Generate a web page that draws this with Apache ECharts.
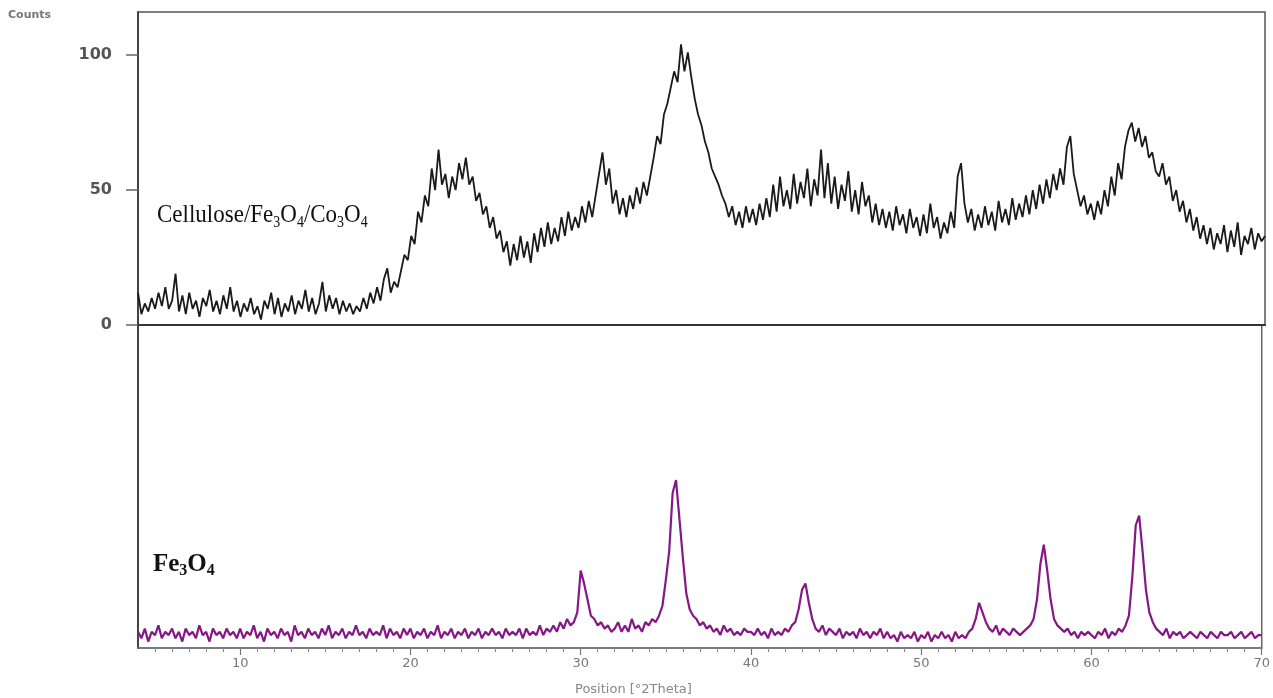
<!DOCTYPE html>
<html>
<head>
<meta charset="utf-8">
<script src="https://cdn.jsdelivr.net/npm/echarts@6/dist/echarts.min.js"></script>
<style>
html,body{margin:0;padding:0;background:#fff;}
#chart{width:1273px;height:698px;}
</style>
</head>
<body>
<div id="chart"></div>
<script>
// Sampling of the 2-theta scan (degrees)
const scanStart = 4.0;
const scanStep = 0.2;

// Cellulose/Fe3O4/Co3O4 counts, one row per 2 degrees (4.0 ... 69.8), then 70.0
const celluloseCounts = [
  12, 4, 8, 5, 10, 6, 12, 7, 14, 6,
  9, 19, 5, 11, 4, 12, 6, 9, 3, 10,
  7, 13, 5, 9, 4, 11, 6, 14, 5, 9,
  3, 8, 5, 10, 4, 7, 2, 9, 6, 12,
  4, 10, 3, 8, 5, 11, 4, 9, 6, 13,
  5, 10, 4, 8, 16, 5, 11, 6, 10, 4,
  9, 5, 8, 4, 7, 5, 10, 6, 12, 8,
  14, 9, 17, 21, 12, 16, 14, 20, 26, 24,
  33, 30, 42, 38, 48, 44, 58, 50, 65, 52,
  56, 47, 55, 50, 60, 54, 62, 52, 55, 46,
  49, 41, 44, 36, 40, 32, 35, 27, 31, 22,
  30, 24, 33, 25, 31, 23, 34, 27, 36, 29,
  38, 30, 36, 31, 40, 33, 42, 35, 40, 36,
  44, 38, 46, 40, 48, 56, 64, 52, 58, 45,
  50, 41, 47, 40, 48, 43, 51, 45, 53, 48,
  55, 62, 70, 67, 78, 82, 88, 94, 90, 104,
  94, 101, 92, 84, 78, 74, 68, 64, 58, 55,
  52, 48, 45, 40, 44, 37, 42, 36, 44, 38,
  43, 37, 45, 39, 47, 40, 52, 42, 55, 44,
  50, 43, 56, 45, 53, 47, 58, 44, 54, 48,
  65, 47, 60, 45, 55, 43, 52, 46, 57, 42,
  50, 41, 53, 44, 48, 38, 45, 37, 43, 36,
  42, 35, 44, 37, 41, 34, 43, 36, 40, 33,
  41, 34, 45, 36, 40, 32, 38, 34, 42, 36,
  55, 60, 45, 38, 43, 35, 41, 36, 44, 37,
  42, 35, 46, 38, 43, 37, 47, 39, 45, 40,
  48, 41, 50, 43, 52, 45, 54, 47, 56, 50,
  58, 52, 66, 70, 56, 50, 44, 48, 41, 45,
  39, 46, 41, 50, 44, 55, 48, 60, 54, 66,
  72, 75, 68, 73, 66, 70, 62, 64, 57, 55,
  60, 52, 55, 46, 50, 42, 46, 38, 43, 35,
  40, 32, 37, 30, 36, 28, 34, 30, 37, 27,
  35, 29, 38, 26, 33, 30, 36, 28, 34, 31,
  33
];

// Fe3O4 intensity (relative units), same sampling
const magnetiteCounts = [
  5, 3, 6, 2, 5, 4, 7, 3, 5, 4,
  6, 3, 5, 2, 6, 4, 5, 3, 7, 4,
  5, 2, 6, 4, 5, 3, 6, 4, 5, 3,
  6, 3, 5, 4, 7, 3, 5, 2, 6, 4,
  5, 3, 6, 4, 5, 2, 7, 4, 5, 3,
  6, 4, 5, 3, 6, 4, 7, 3, 5, 4,
  6, 3, 5, 4, 7, 4, 5, 3, 6, 4,
  5, 4, 7, 3, 6, 4, 5, 3, 6, 4,
  6, 3, 5, 4, 6, 3, 5, 4, 7, 3,
  5, 4, 6, 3, 5, 4, 6, 3, 5, 4,
  6, 3, 5, 4, 6, 4, 5, 3, 6, 4,
  5, 4, 6, 3, 6, 4, 5, 4, 7, 4,
  6, 5, 7, 5, 8, 6, 9, 7, 8, 11,
  24, 20, 15, 10, 9, 7, 8, 6, 7, 5,
  6, 8, 5, 7, 5, 9, 6, 7, 5, 8,
  7, 9, 8, 10, 13, 21, 30, 48, 52, 40,
  28, 17, 12, 10, 9, 7, 8, 6, 7, 5,
  6, 4, 7, 5, 6, 4, 5, 4, 6, 5,
  5, 4, 6, 4, 5, 3, 6, 4, 5, 4,
  6, 5, 7, 8, 12, 18, 20, 14, 9, 6,
  5, 7, 4, 6, 5, 4, 6, 3, 5, 4,
  5, 3, 6, 4, 5, 3, 5, 4, 6, 3,
  5, 3, 4, 2, 5, 3, 4, 3, 5, 2,
  4, 3, 5, 2, 4, 3, 5, 3, 4, 2,
  5, 3, 4, 3, 5, 6, 9, 14, 11, 8,
  6, 5, 7, 4, 6, 5, 4, 6, 5, 4,
  5, 6, 7, 9, 15, 26, 32, 24, 15, 9,
  7, 6, 5, 6, 4, 5, 3, 5, 4, 5,
  4, 3, 5, 4, 6, 3, 5, 4, 6, 5,
  7, 10, 22, 38, 41, 30, 18, 11, 8, 6,
  5, 4, 6, 3, 5, 4, 5, 3, 4, 5,
  4, 3, 5, 4, 3, 5, 4, 3, 5, 4,
  4, 5, 3, 4, 5, 3, 4, 5, 3, 4,
  4
];

const xTickLabels = ['10', '20', '30', '40', '50', '60', '70'];
const yTickValues = [0, 50, 100];
const yAxisTitle = 'Counts';
const xAxisTitle = 'Position [°2Theta]';

const twoTheta = celluloseCounts.map((_, i) => +(scanStart + i * scanStep).toFixed(1));
const topData = twoTheta.map((x, i) => [x, celluloseCounts[i]]);
const botData = twoTheta.map((x, i) => [x, magnetiteCounts[i]]);

const chart = echarts.init(document.getElementById('chart'), null, {renderer: 'canvas'});
const axisFont = 'DejaVu Sans';

chart.setOption({
  animation: false,
  backgroundColor: '#ffffff',
  grid: [
    {left: 138, right: 8, top: 12, height: 313, show: true, borderColor: '#555', borderWidth: 1.5, backgroundColor: 'transparent'},
    {left: 138, right: 8, top: 325, height: 323, show: true, borderColor: '#666', borderWidth: 1.5, backgroundColor: 'transparent'}
  ],
  xAxis: [
    {
      gridIndex: 0, type: 'value', min: 4, max: 70,
      axisLine: {show: true, lineStyle: {color: '#333', width: 2}},
      axisTick: {show: false}, axisLabel: {show: false}, splitLine: {show: false}
    },
    {
      gridIndex: 1, type: 'value', min: 4, max: 70,
      axisLine: {show: true, lineStyle: {color: '#777', width: 1.5}},
      axisTick: {show: true, length: 7, lineStyle: {color: '#777', width: 1.2}, customValues: [10, 20, 30, 40, 50, 60, 70]},
      minorTick: {show: true, splitNumber: 10, length: 4, lineStyle: {color: '#888'}},
      axisLabel: {
        show: true, margin: 9, color: '#777', fontSize: 13, fontFamily: axisFont,
        customValues: [10, 20, 30, 40, 50, 60, 70],
        formatter: v => xTickLabels[Math.round(v / 10) - 1] || ''
      },
      splitLine: {show: false}
    }
  ],
  yAxis: [
    {
      gridIndex: 0, type: 'value', min: 0, max: 116,
      axisLine: {show: true, lineStyle: {color: '#444', width: 2}},
      axisTick: {show: true, length: 12, lineStyle: {color: '#666', width: 1.5}, customValues: yTickValues},
      axisLabel: {
        show: true, margin: 26, color: '#555', fontSize: 16, fontWeight: 'bold', fontFamily: axisFont,
        customValues: yTickValues
      },
      splitLine: {show: false}
    },
    {
      gridIndex: 1, type: 'value', min: 0, max: 100,
      axisLine: {show: true, lineStyle: {color: '#444', width: 2}},
      axisTick: {show: false}, axisLabel: {show: false}, splitLine: {show: false}
    }
  ],
  series: [
    {
      type: 'line', xAxisIndex: 0, yAxisIndex: 0, data: topData,
      showSymbol: false, symbol: 'none',
      lineStyle: {color: '#1a1a1a', width: 1.8}
    },
    {
      type: 'line', xAxisIndex: 1, yAxisIndex: 1, data: botData,
      showSymbol: false, symbol: 'none',
      lineStyle: {color: '#861886', width: 2.2}
    }
  ],
  graphic: [
    {
      type: 'text', left: 8, top: 10,
      style: {text: yAxisTitle, fill: '#777', fontSize: 11, fontFamily: axisFont, fontWeight: 'bold'}
    },
    {
      type: 'text', left: 575, top: 683,
      style: {text: xAxisTitle, fill: '#888', fontSize: 13, fontFamily: axisFont}
    },
    {
      type: 'text', left: 157, top: 202, scaleY: 1.12,
      style: {
        text: '{a|Cellulose/Fe}{s|3}{a|O}{s|4}{a|/Co}{s|3}{a|O}{s|4}',
        rich: {
          a: {fontSize: 23, fontFamily: 'Liberation Serif', fill: '#111', lineHeight: 28},
          s: {fontSize: 14, fontFamily: 'Liberation Serif', fill: '#111', lineHeight: 14, verticalAlign: 'bottom'}
        }
      }
    },
    {
      type: 'text', left: 153, top: 552,
      style: {
        text: '{a|Fe}{s|3}{a|O}{s|4}',
        rich: {
          a: {fontSize: 25, fontFamily: 'Liberation Serif', fontWeight: 'bold', fill: '#111', lineHeight: 28},
          s: {fontSize: 16, fontFamily: 'Liberation Serif', fontWeight: 'bold', fill: '#111', lineHeight: 16, verticalAlign: 'bottom'}
        }
      }
    }
  ]
});
</script>
</body>
</html>
